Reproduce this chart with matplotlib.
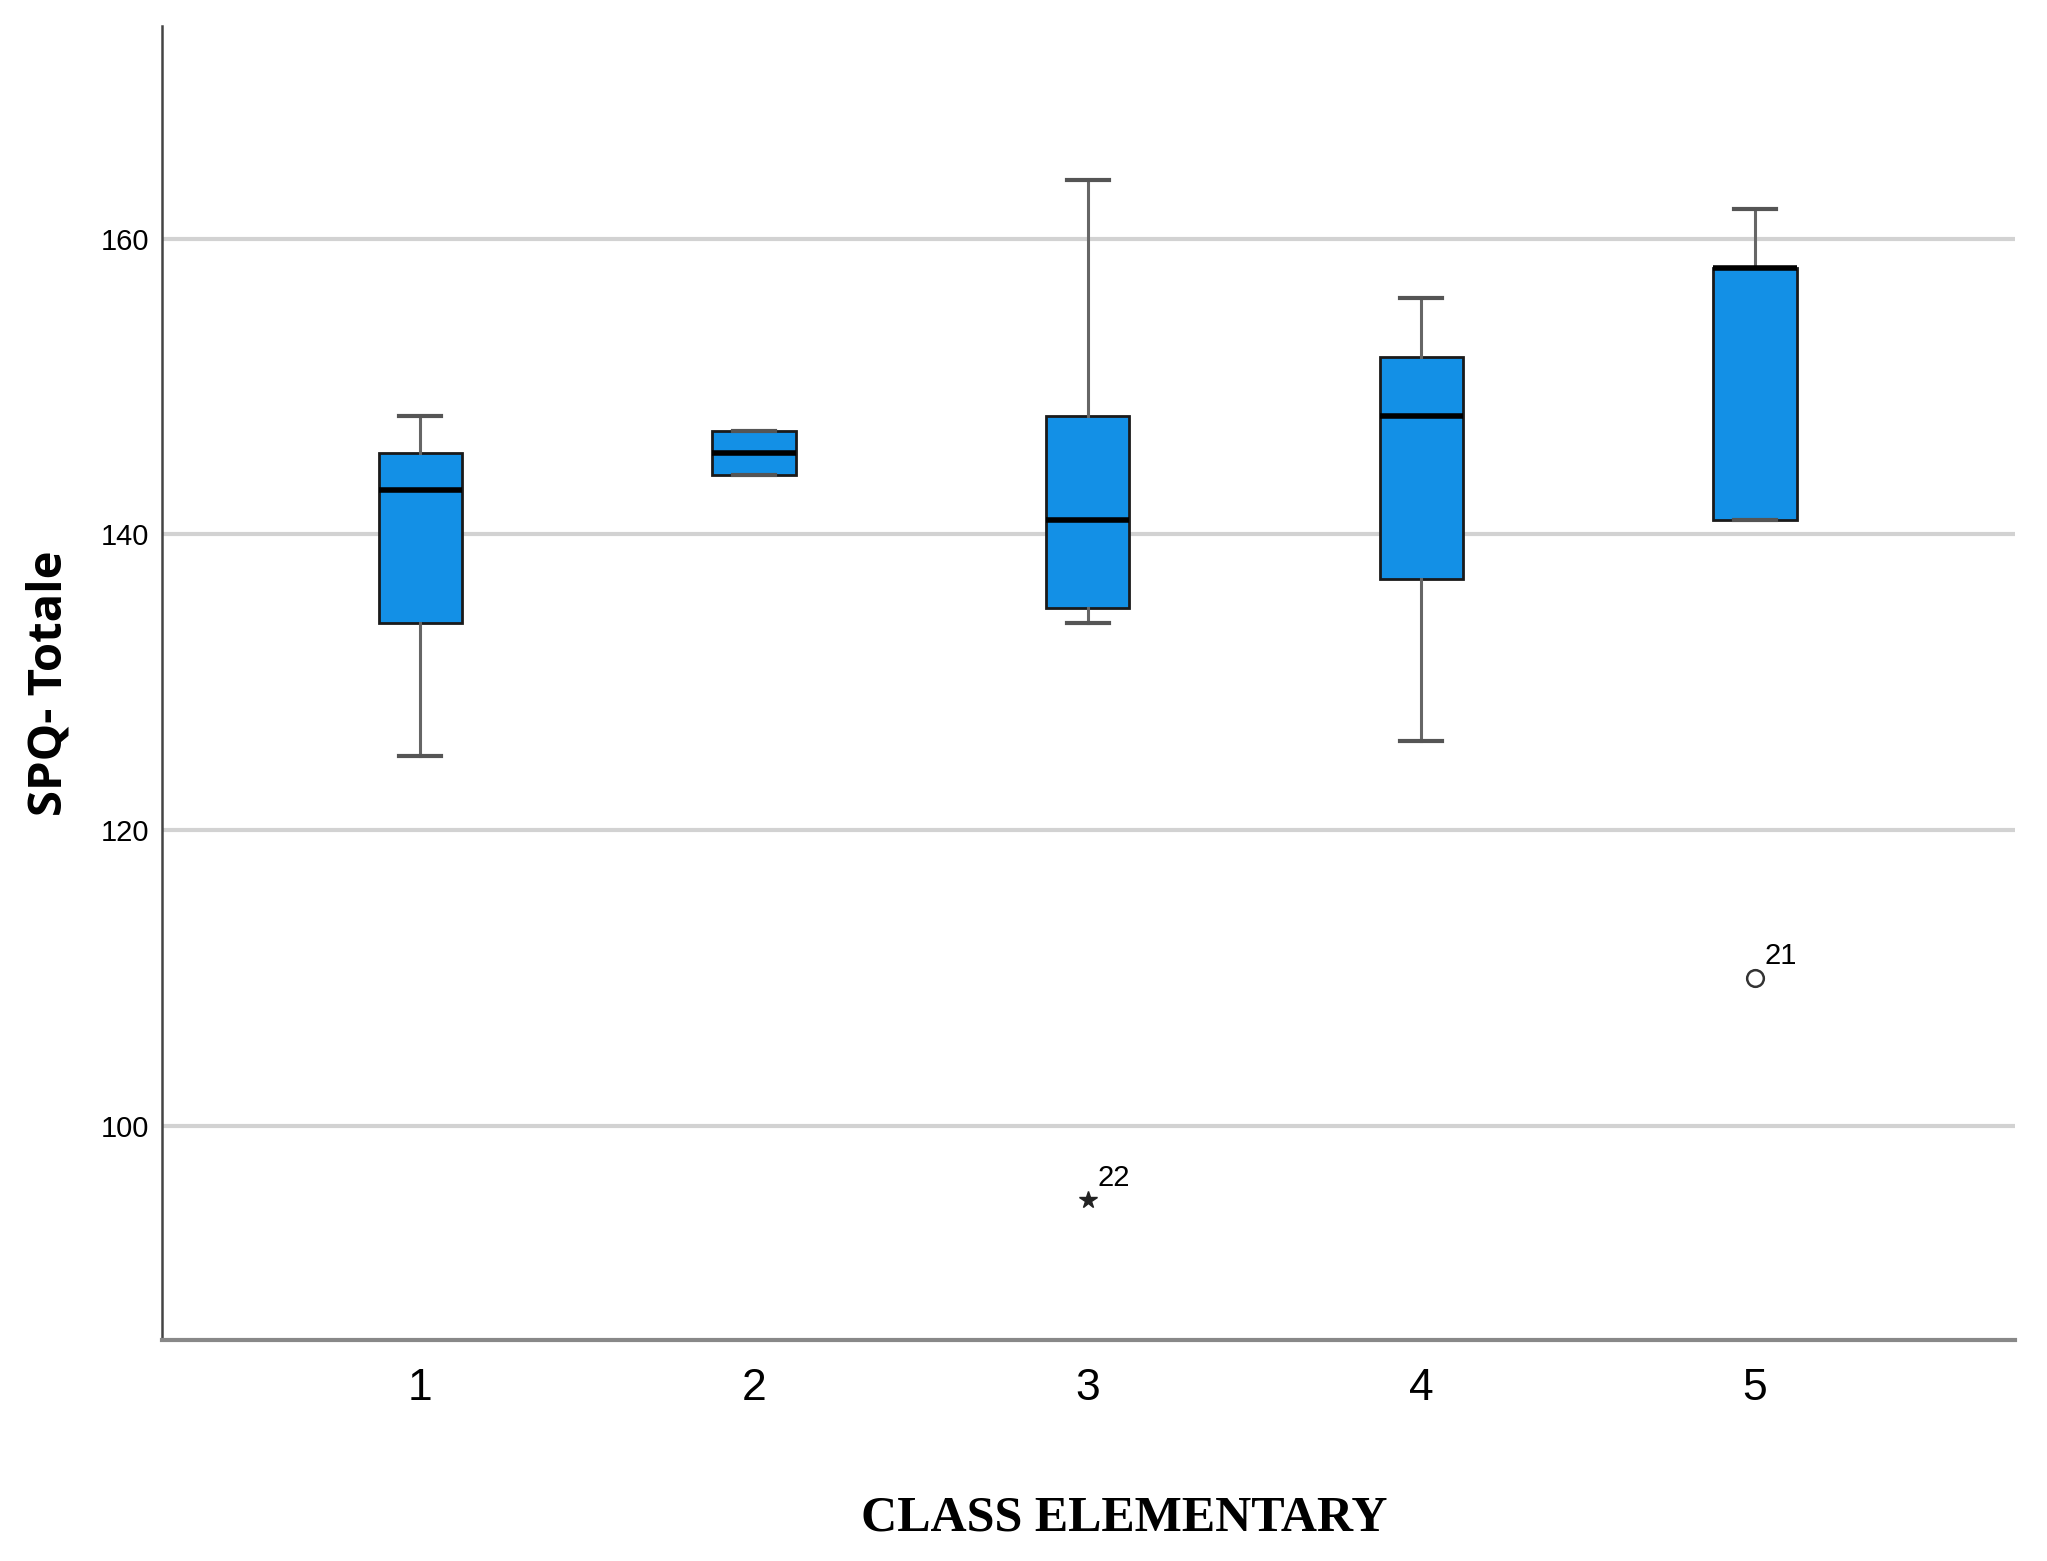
import matplotlib
matplotlib.use('Agg')

import matplotlib.pyplot as plt

# box statistics (SPQ totale by class)
classes = [1, 2, 3, 4, 5]
whisker_low = [125, 144, 134, 126, 141]
q1 = [134, 144, 135, 137, 141]
medians = [143, 145.5, 141, 148, 158]
q3 = [145.5, 147, 148, 152, 158]
whisker_high = [148, 147, 164, 156, 162]

# outliers: (class, value, case id, kind)
outlier_class = [3, 5]
outlier_value = [95, 110]
outlier_id = ['22', '21']
outlier_marker = ['*', 'o']

yticks = [100, 120, 140, 160]

sans = ['Liberation Sans', 'DejaVu Sans']

stats = []
for i in range(len(classes)):
    stats.append({'whislo': whisker_low[i], 'q1': q1[i], 'med': medians[i],
                  'q3': q3[i], 'whishi': whisker_high[i], 'fliers': []})

fig = plt.figure(figsize=(20.47, 15.61), dpi=100)
ax = fig.add_axes([0.079, 0.1416, 0.9055, 0.8417])

ax.bxp(stats, positions=classes, widths=0.25, patch_artist=True,
       showfliers=False,
       boxprops=dict(facecolor='#1390e6', edgecolor='#1a1a1a', linewidth=2),
       medianprops=dict(color='black', linewidth=4),
       whiskerprops=dict(color='#666666', linewidth=2.2),
       capprops=dict(color='#555555', linewidth=3),
       capwidths=0.125, zorder=3)

for xc, yv, lab, mk in zip(outlier_class, outlier_value, outlier_id, outlier_marker):
    if mk == 'o':
        ax.plot(xc, yv, marker='o', markersize=12, markerfacecolor='white',
                markeredgecolor='#333333', markeredgewidth=1.8, zorder=4)
    else:
        ax.plot(xc, yv, marker='*', markersize=13, color='#222222', zorder=4)
    ax.annotate(lab, (xc, yv), xytext=(7, 10), textcoords='offset points',
                fontsize=21, family=sans, color='black')

ax.set_xlim(0.225, 5.78)
ax.set_ylim(85.5, 174.4)
ax.set_yticks(yticks)
ax.set_xticks(classes)
ax.set_xticklabels([str(c) for c in classes], fontsize=32, family=sans)
ax.set_yticklabels([str(t) for t in yticks], fontsize=21, family=sans)
ax.tick_params(axis='both', length=0)
ax.tick_params(axis='x', pad=20)
ax.tick_params(axis='y', pad=9)

ax.grid(axis='y', color='#d2d2d2', linewidth=3, zorder=0)
ax.set_axisbelow(True)

for s in ['top', 'right']:
    ax.spines[s].set_visible(False)
ax.spines['left'].set_color('#444444')
ax.spines['left'].set_linewidth(1.8)
ax.spines['bottom'].set_color('#888888')
ax.spines['bottom'].set_linewidth(3)

ax.set_ylabel('SPQ- Totale', fontsize=34, fontweight='bold', family='Open Sans',
              labelpad=20)
fig.text(0.549, 0.027, 'CLASS ELEMENTARY', ha='center', va='center',
         fontsize=36, fontweight='bold', family='Liberation Serif')

fig.savefig('out.png', dpi=100)
